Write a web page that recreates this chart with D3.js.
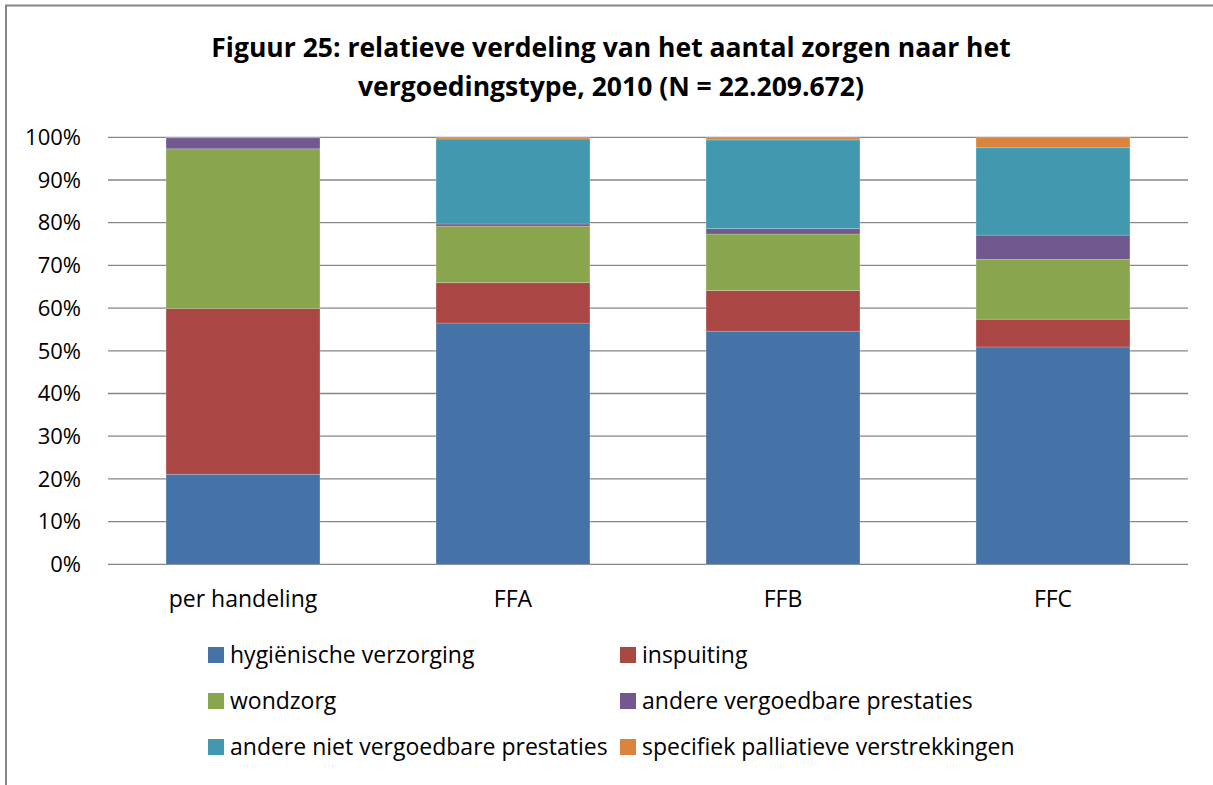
<!DOCTYPE html>
<html>
<head>
<meta charset="utf-8">
<script src="https://cdn.jsdelivr.net/npm/d3@7"></script>
<style>
	body { margin: 0; background: #fff; }
	svg text { font-family: "Open Sans", sans-serif; fill: #000; }
</style>
</head>
<body>
<svg width="1213" height="785"></svg>
<script>
// categories and series (percent of total per category)
const categories = ["per handeling", "FFA", "FFB", "FFC"];
const seriesNames = [
	"hygiënische verzorging",
	"inspuiting",
	"wondzorg",
	"andere vergoedbare prestaties",
	"andere niet vergoedbare prestaties",
	"specifiek palliatieve verstrekkingen"
];
const hygienisch = [21.1, 56.5, 54.6, 50.9];
const inspuiting = [38.8, 9.45, 9.5, 6.5];
const wondzorg = [37.4, 13.25, 13.25, 14.0];
const andereVergoedbaar = [2.6, 0.5, 1.25, 5.7];
const andereNietVergoedbaar = [0.0, 19.9, 20.8, 20.45];
const palliatief = [0.1, 0.4, 0.6, 2.45];
const yTicks = [0, 10, 20, 30, 40, 50, 60, 70, 80, 90, 100];

const colors = ["#4572A7", "#AA4643", "#89A54E", "#71588F", "#4198AF", "#DB843D"];
const seriesValues = [hygienisch, inspuiting, wondzorg, andereVergoedbaar, andereNietVergoedbaar, palliatief];

const svg = d3.select("svg");

// outer chart frame
svg.append("rect")
	.attr("x", 6).attr("y", 5.5)
	.attr("width", 1220).attr("height", 800)
	.attr("fill", "none")
	.attr("stroke", "#868686")
	.attr("stroke-width", 2);

// title
const title = svg.append("text")
	.attr("text-anchor", "middle")
	.attr("font-weight", "bold")
	.attr("font-size", 26.5);
title.append("tspan").attr("x", 611).attr("y", 57)
	.text("Figuur 25: relatieve verdeling van het aantal zorgen naar het");
title.append("tspan").attr("x", 611).attr("y", 96)
	.text("vergoedingstype, 2010 (N = 22.209.672)");

const plot = {left: 108, right: 1188, top: 137.3, bottom: 564.3};

const x = d3.scaleBand()
	.domain(categories)
	.range([plot.left, plot.right])
	.paddingInner(0.43)
	.paddingOuter(0.215);

const y = d3.scaleLinear()
	.domain([0, 100])
	.range([plot.bottom, plot.top]);

// gridlines
svg.append("g")
	.selectAll("line")
	.data(yTicks)
	.join("line")
	.attr("x1", plot.left).attr("x2", plot.right)
	.attr("y1", d => y(d)).attr("y2", d => y(d))
	.attr("stroke", "#868686")
	.attr("stroke-width", 1.3);

// y labels
svg.append("g")
	.selectAll("text")
	.data(yTicks)
	.join("text")
	.attr("x", 81)
	.attr("y", d => y(d))
	.attr("dy", "0.35em")
	.attr("text-anchor", "end")
	.attr("font-size", 22)
	.text(d => d + "%");

// stacked data
const rows = categories.map((c, i) => {
	const row = {category: c};
	seriesNames.forEach((s, j) => row[s] = seriesValues[j][i]);
	return row;
});
const stacked = d3.stack().keys(seriesNames)(rows);

svg.append("g")
	.selectAll("g")
	.data(stacked)
	.join("g")
	.attr("fill", (d, i) => colors[i])
	.selectAll("rect")
	.data(d => d)
	.join("rect")
	.attr("x", d => x(d.data.category))
	.attr("width", x.bandwidth())
	.attr("y", d => y(d[1]))
	.attr("height", d => y(d[0]) - y(d[1]))
	.attr("stroke", "rgba(255,255,255,0.25)")
	.attr("stroke-width", 0.8);

// category labels
svg.append("g")
	.selectAll("text")
	.data(categories)
	.join("text")
	.attr("x", d => x(d) + x.bandwidth() / 2)
	.attr("y", 607)
	.attr("text-anchor", "middle")
	.attr("font-size", 23)
	.text(d => d);

// legend, two columns, three rows
const legendX = [208, 620];
const legendY = [655, 701, 747];
const legend = svg.append("g")
	.selectAll("g")
	.data(seriesNames)
	.join("g")
	.attr("transform", (d, i) => `translate(${legendX[i % 2]},${legendY[Math.floor(i / 2)]})`);

legend.append("rect")
	.attr("x", 0).attr("y", -8)
	.attr("width", 16).attr("height", 16)
	.attr("fill", (d, i) => colors[i]);

legend.append("text")
	.attr("x", 22)
	.attr("dy", "0.35em")
	.attr("font-size", 23)
	.text(d => d);
</script>
</body>
</html>
